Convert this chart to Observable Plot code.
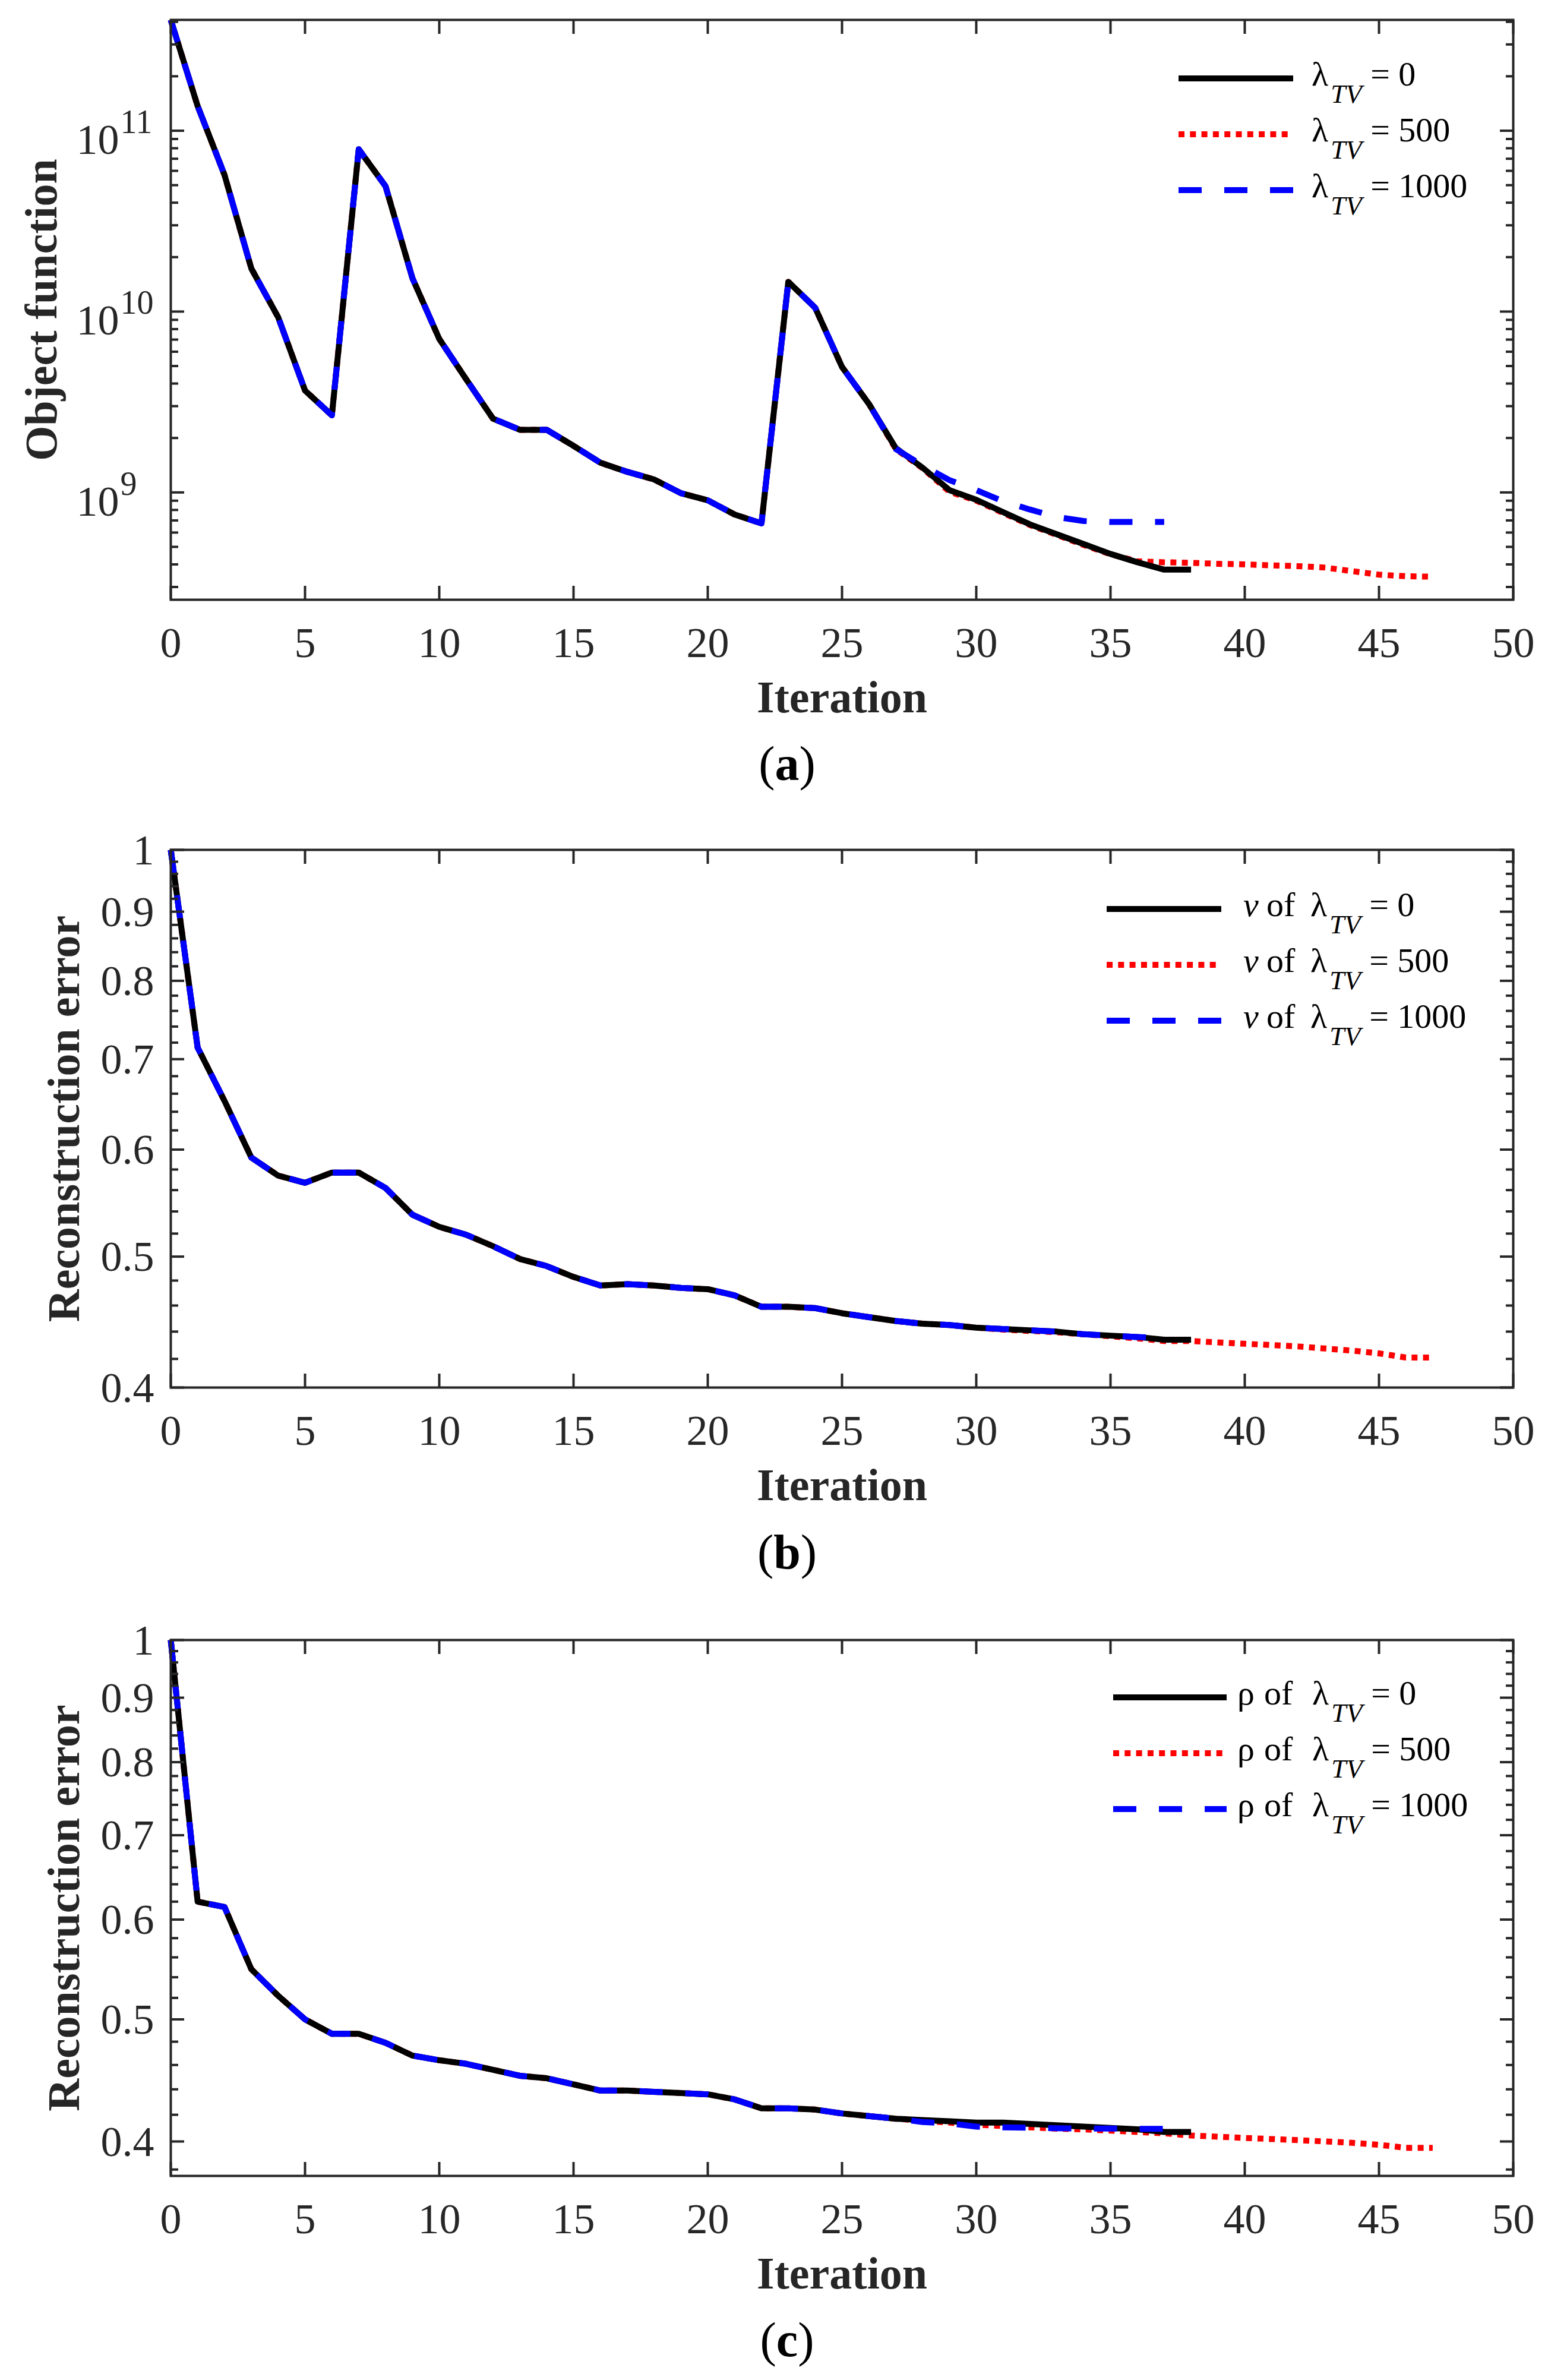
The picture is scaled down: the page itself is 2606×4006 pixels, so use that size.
<!DOCTYPE html>
<html><head><meta charset="utf-8">
<script src="https://cdn.jsdelivr.net/npm/d3@7"></script>
<script src="https://cdn.jsdelivr.net/npm/@observablehq/plot@0.6"></script>
<style>
html,body{margin:0;padding:0;background:#fff;}
#page{position:relative;width:2606px;height:4006px;font-family:"Times New Roman","Liberation Serif",Times,"Nimbus Roman",serif;background:#fff;}
#page svg, #page svg text{font-family:"Times New Roman","Liberation Serif",Times,"Nimbus Roman",serif !important;}
.panel{position:absolute;left:0;}
#overlay{position:absolute;left:0;top:0;pointer-events:none;}
</style></head><body><div id="page"></div>
<script>
// ---------------- data ----------------
const xTickValues = [0, 5, 10, 15, 20, 25, 30, 35, 40, 45, 50];
const seriesNames = ["0", "500", "1000"];
const panelCaptions = ["a", "b", "c"];

// (a) Object function, index = iteration
const objLambda0 = [4.1e11, 1.37e11, 5.7e10, 1.73e10, 9.3e9, 3.66e9, 2.67e9, 7.9e10, 4.93e10, 1.53e10,
  7.06e9, 4.23e9, 2.56e9, 2.22e9, 2.22e9, 1.81e9, 1.46e9, 1.30e9, 1.18e9, 0.99e9,
  9.05e8, 7.55e8, 6.74e8, 1.46e10, 1.05e10, 4.94e9, 3.09e9, 1.76e9, 1.37e9, 1.03e9,
  9.1e8, 7.78e8, 6.66e8, 5.87e8, 5.18e8, 4.57e8, 4.11e8, 3.74e8, 3.74e8];
const objLambda500 = [4.1e11, 1.37e11, 5.7e10, 1.73e10, 9.3e9, 3.66e9, 2.67e9, 7.9e10, 4.93e10, 1.53e10,
  7.06e9, 4.23e9, 2.56e9, 2.22e9, 2.22e9, 1.81e9, 1.46e9, 1.30e9, 1.18e9, 0.99e9,
  9.05e8, 7.55e8, 6.74e8, 1.46e10, 1.05e10, 4.94e9, 3.09e9, 1.74e9, 1.36e9, 1.01e9,
  9.0e8, 7.7e8, 6.6e8, 5.82e8, 5.12e8, 4.55e8, 4.16e8, 4.11e8, 4.08e8, 4.03e8,
  4.0e8, 3.95e8, 3.91e8, 3.84e8, 3.67e8, 3.51e8, 3.44e8, 3.42e8];
const objLambda1000 = [4.1e11, 1.37e11, 5.7e10, 1.73e10, 9.3e9, 3.66e9, 2.67e9, 7.9e10, 4.93e10, 1.53e10,
  7.06e9, 4.23e9, 2.56e9, 2.22e9, 2.22e9, 1.81e9, 1.46e9, 1.30e9, 1.18e9, 0.99e9,
  9.05e8, 7.55e8, 6.74e8, 1.46e10, 1.05e10, 4.94e9, 3.09e9, 1.74e9, 1.41e9, 1.17e9,
  1.03e9, 8.94e8, 8.04e8, 7.31e8, 6.95e8, 6.87e8, 6.87e8, 6.87e8];

// (b) Reconstruction error of v
const vLambda0 = [1.0, 0.714, 0.652, 0.592, 0.574, 0.567, 0.577, 0.577, 0.562, 0.537,
  0.526, 0.519, 0.509, 0.498, 0.492, 0.483, 0.476, 0.477, 0.476, 0.474,
  0.473, 0.468, 0.459, 0.459, 0.458, 0.454, 0.451, 0.448, 0.446, 0.445,
  0.443, 0.442, 0.441, 0.440, 0.438, 0.437, 0.436, 0.434, 0.434];
const vLambda500 = [1.0, 0.714, 0.652, 0.592, 0.574, 0.567, 0.577, 0.577, 0.562, 0.537,
  0.526, 0.519, 0.509, 0.498, 0.492, 0.483, 0.476, 0.477, 0.476, 0.474,
  0.473, 0.468, 0.459, 0.459, 0.458, 0.454, 0.451, 0.448, 0.446, 0.445,
  0.443, 0.4415, 0.4405, 0.4395, 0.438, 0.4365, 0.435, 0.433, 0.433, 0.432,
  0.431, 0.430, 0.429, 0.4275, 0.426, 0.424, 0.421, 0.421];
const vLambda1000 = [1.0, 0.714, 0.652, 0.592, 0.574, 0.567, 0.577, 0.577, 0.562, 0.537,
  0.526, 0.519, 0.509, 0.498, 0.492, 0.483, 0.476, 0.477, 0.476, 0.474,
  0.473, 0.468, 0.459, 0.459, 0.458, 0.454, 0.451, 0.448, 0.446, 0.445,
  0.443, 0.442, 0.441, 0.440, 0.438, 0.437, 0.436, 0.435];

// (c) Reconstruction error of rho
const rhoLambda0 = [1.0, 0.620, 0.614, 0.548, 0.522, 0.500, 0.487, 0.487, 0.479, 0.468,
  0.464, 0.461, 0.456, 0.451, 0.449, 0.444, 0.439, 0.439, 0.438, 0.437,
  0.436, 0.432, 0.425, 0.425, 0.424, 0.421, 0.419, 0.417, 0.416, 0.415,
  0.414, 0.414, 0.413, 0.412, 0.411, 0.410, 0.409, 0.407, 0.407];
const rhoLambda500 = [1.0, 0.620, 0.614, 0.548, 0.522, 0.500, 0.487, 0.487, 0.479, 0.468,
  0.464, 0.461, 0.456, 0.451, 0.449, 0.444, 0.439, 0.439, 0.438, 0.437,
  0.436, 0.432, 0.425, 0.425, 0.424, 0.421, 0.419, 0.417, 0.4155, 0.414,
  0.4125, 0.4115, 0.4105, 0.4095, 0.409, 0.408, 0.407, 0.406, 0.4044, 0.4035,
  0.4026, 0.4018, 0.401, 0.400, 0.399, 0.3976, 0.3954, 0.3954];
const rhoLambda1000 = [1.0, 0.620, 0.614, 0.548, 0.522, 0.500, 0.487, 0.487, 0.479, 0.468,
  0.464, 0.461, 0.456, 0.451, 0.449, 0.444, 0.439, 0.439, 0.438, 0.437,
  0.436, 0.432, 0.425, 0.425, 0.424, 0.421, 0.419, 0.417, 0.4145, 0.4135,
  0.411, 0.4105, 0.4102, 0.4098, 0.4096, 0.4096, 0.4093, 0.4093];

const objMajorTicks = [1e9, 1e10, 1e11];
const errMajorTicks = [0.4, 0.5, 0.6, 0.7, 0.8, 0.9, 1];

// ---------------- helpers ----------------
const INK = "#262626";
const FONT = '"Times New Roman", "Liberation Serif", Times, "Nimbus Roman", serif';
const styles = {
  "0":    {stroke: "#000000", dash: null},
  "500":  {stroke: "#ff0000", dash: "10 9.3"},
  "1000": {stroke: "#0000ff", dash: "39 38"}
};

function rowsOf(values, name) { return values.map((v, i) => ({i, v, name})); }

function logMinor(domain) {
  const out = [];
  for (let k = 7; k <= 12; k++) for (let m = 2; m <= 9; m++) {
    const t = m * Math.pow(10, k);
    if (t >= domain[0] && t <= domain[1]) out.push(t);
  }
  return out;
}
function errMinor(domain) {
  const out = [];
  for (let k = 15; k < 50; k++) {
    if (k % 5 === 0) continue;
    const t = +(k * 0.02).toFixed(2);
    if (t >= domain[0] - 1e-9 && t <= domain[1]) out.push(t);
  }
  return out;
}

function lineMarks(seriesMap) {
  // draw order: 500 (red), 0 (black), 1000 (blue)
  return ["500", "0", "1000"].map(name => Plot.line(rowsOf(seriesMap[name], name), {
    x: "i", y: "v", stroke: styles[name].stroke, strokeWidth: 10,
    strokeDasharray: styles[name].dash, strokeLinecap: "butt", strokeLinejoin: "round"
  }));
}

function frameMarks(yMajor, yMinor) {
  const tk = {stroke: INK, strokeWidth: 4, tickFormat: () => "", label: null};
  return [
    Plot.frame({stroke: INK, strokeWidth: 4}),
    Plot.axisX(xTickValues, {...tk, anchor: "bottom", tickSize: 23, dy: -23}),
    Plot.axisX(xTickValues, {...tk, anchor: "top", tickSize: 23, dy: 23}),
    Plot.axisY(yMajor, {...tk, anchor: "left", tickSize: 23, dx: 23}),
    Plot.axisY(yMajor, {...tk, anchor: "right", tickSize: 23, dx: -23}),
    Plot.axisY(yMinor, {...tk, anchor: "left", tickSize: 13, dx: 13}),
    Plot.axisY(yMinor, {...tk, anchor: "right", tickSize: 13, dx: -13}),
    Plot.text(xTickValues, {x: d => d, frameAnchor: "bottom", text: d => String(d),
      textAnchor: "middle", lineAnchor: "bottom", dy: 96, fontSize: 72, fill: INK}),
    Plot.text(["Iteration"], {frameAnchor: "bottom", text: d => d, textAnchor: "middle", lineAnchor: "bottom",
      dy: 189, fontSize: 76, fontWeight: "bold", fill: INK})
  ];
}

function yLabelMark(label, dx) {
  return Plot.text([label], {frameAnchor: "left", text: d => d, rotate: -90, dx,
    textAnchor: "middle", lineAnchor: "middle", fontSize: 76, fontWeight: "bold", fill: INK});
}

const page = document.getElementById("page");

function addPanel({top, height, marginTop, marginBottom, yDomain, marks}) {
  const chart = Plot.plot({
    width: 2606, height, marginTop, marginBottom, marginLeft: 287, marginRight: 59,
    x: {domain: [0, 50], label: null},
    y: {type: "log", domain: yDomain, label: null},
    style: {fontFamily: FONT, background: "white", overflow: "visible"},
    marks
  });
  const div = document.createElement("div");
  div.className = "panel";
  div.style.top = top + "px";
  div.appendChild(chart);
  page.appendChild(div);
}

// ---------- panel (a) ----------
const objDomain = [2.55e8, 4.1e11];
addPanel({
  top: 0, height: 1240, marginTop: 33, marginBottom: 231, yDomain: objDomain,
  marks: [
    ...lineMarks({"0": objLambda0, "500": objLambda500, "1000": objLambda1000}),
    ...frameMarks(objMajorTicks, logMinor(objDomain)),
    Plot.text(objMajorTicks, {y: d => d, frameAnchor: "left", text: () => "10", textAnchor: "end",
      lineAnchor: "bottom", dx: -87, dy: 39, fontSize: 72, fill: INK}),
    Plot.text(objMajorTicks, {y: d => d, frameAnchor: "left", text: d => String(Math.round(Math.log10(d))),
      textAnchor: "start", lineAnchor: "bottom", dx: -85, dy: 4, fontSize: 56, fill: INK}),
    yLabelMark("Object function", -217)
  ]
});

// ---------- panel (b) ----------
const vDomain = [0.4, 1];
addPanel({
  top: 1380, height: 1180, marginTop: 50, marginBottom: 225, yDomain: vDomain,
  marks: [
    ...lineMarks({"0": vLambda0, "500": vLambda500, "1000": vLambda1000}),
    ...frameMarks(errMajorTicks, errMinor(vDomain)),
    Plot.text(errMajorTicks, {y: d => d, frameAnchor: "left", text: d => d === 1 ? "1" : d.toFixed(1),
      textAnchor: "end", lineAnchor: "bottom", dx: -28, dy: 24, fontSize: 72, fill: INK}),
    yLabelMark("Reconstruction error", -179)
  ]
});

// ---------- panel (c) ----------
const rhoDomain = [0.3756, 1];
addPanel({
  top: 2700, height: 1190, marginTop: 60, marginBottom: 228, yDomain: rhoDomain,
  marks: [
    ...lineMarks({"0": rhoLambda0, "500": rhoLambda500, "1000": rhoLambda1000}),
    ...frameMarks(errMajorTicks, errMinor(rhoDomain)),
    Plot.text(errMajorTicks, {y: d => d, frameAnchor: "left", text: d => d === 1 ? "1" : d.toFixed(1),
      textAnchor: "end", lineAnchor: "bottom", dx: -28, dy: 24, fontSize: 72, fill: INK}),
    yLabelMark("Reconstruction error", -179)
  ]
});

// ---------- legends and captions (overlay) ----------
const overlay = d3.select(page).append("svg").attr("id", "overlay")
  .attr("width", 2606).attr("height", 4006)
  .style("font-family", FONT);

function legend({x1, x2, rows, xLam, prefix}) {
  seriesNames.forEach((name, k) => {
    const y = rows[k];
    const st = styles[name];
    const ln = overlay.append("line").attr("x1", x1).attr("x2", x2).attr("y1", y).attr("y2", y)
      .attr("stroke", st.stroke).attr("stroke-width", 10).attr("stroke-linecap", "butt");
    if (st.dash) ln.attr("stroke-dasharray", st.dash);
    const base = y + 12;
    if (prefix) {
      overlay.append("text").attr("x", prefix.xSym).attr("y", base).attr("font-size", 58)
        .attr("font-style", prefix.italic ? "italic" : "normal").attr("fill", "#000").text(prefix.sym);
      overlay.append("text").attr("x", prefix.xOf).attr("y", base).attr("font-size", 58)
        .attr("fill", "#000").text("of");
    }
    const t = overlay.append("text").attr("x", xLam).attr("y", base).attr("font-size", 58)
      .attr("fill", "#000").style("white-space", "pre");
    t.append("tspan").text("λ");
    t.append("tspan").attr("font-style", "italic").attr("font-size", 45).attr("dy", 29).attr("dx", 4).text("TV");
    t.append("tspan").attr("dy", -29).text(" = " + name);
  });
}

legend({x1: 1984, x2: 2177, rows: [132, 226, 320], xLam: 2208, prefix: null});
legend({x1: 1863, x2: 2056, rows: [1530, 1624, 1718], xLam: 2206,
  prefix: {sym: "v", italic: true, xSym: 2093, xOf: 2132}});
legend({x1: 1874, x2: 2065, rows: [2857, 2951, 3045], xLam: 2209,
  prefix: {sym: "ρ", italic: false, xSym: 2083, xOf: 2128}});

function caption(letter, y) {
  const t = overlay.append("text").attr("x", 1325).attr("y", y).attr("text-anchor", "middle")
    .attr("font-size", 82).attr("fill", "#000");
  t.append("tspan").text("(");
  t.append("tspan").attr("font-weight", "bold").text(letter);
  t.append("tspan").text(")");
}
caption(panelCaptions[0], 1313);
caption(panelCaptions[1], 2640);
caption(panelCaptions[2], 3966);
</script>
</body></html>
